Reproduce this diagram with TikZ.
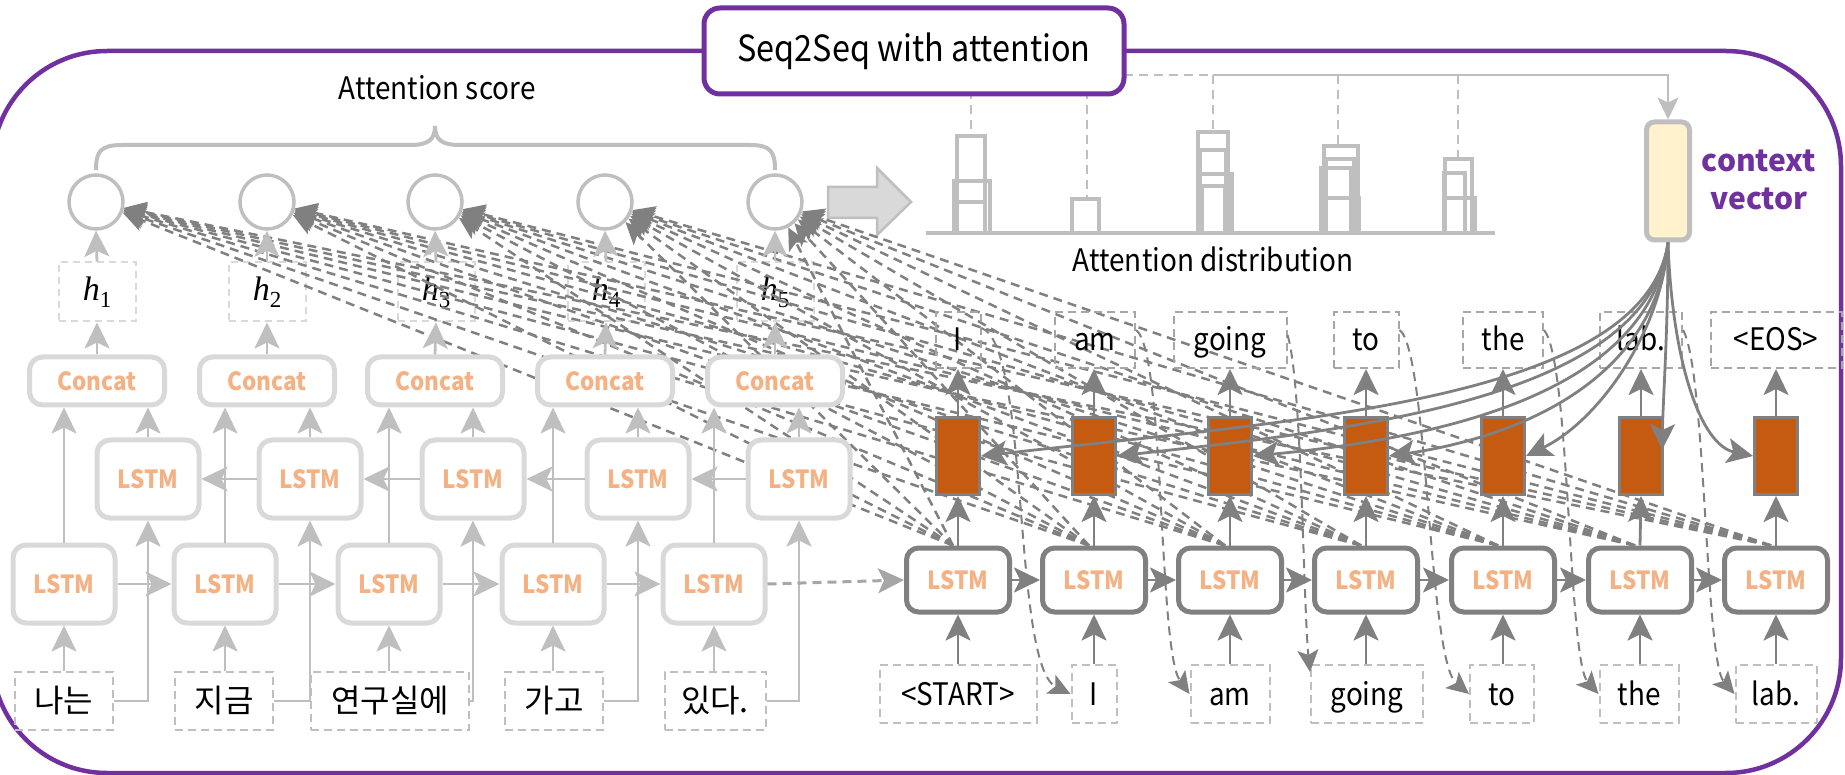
\documentclass[tikz,border=0pt]{standalone}
\usepackage{fontspec}
\setmainfont{Noto Sans CJK KR}[FakeStretch=0.9]
\newfontfamily\krf{Noto Sans CJK KR}
\newfontfamily\hf{Liberation Serif}
\usetikzlibrary{arrows.meta,calc}
\definecolor{frameP}{HTML}{7030A0}
\definecolor{lgray}{HTML}{BFBFBF}
\definecolor{lbox}{HTML}{D9D9D9}
\definecolor{dgray}{HTML}{808080}
\definecolor{wgray}{HTML}{A6A6A6}
\definecolor{lstmtxt}{HTML}{F4B183}
\definecolor{hidfill}{HTML}{C55A11}
\definecolor{ctxfill}{HTML}{FFF2CC}
\newcommand{\fs}[1]{\fontsize{#1}{#1}\selectfont}
\newcommand{\hlab}[1]{{\hf\fs{34}\itshape h\raisebox{-7pt}{\fs{23}\upshape #1}}}
\tikzset{
  bigtip/.tip={Stealth[length=26pt,width=25pt,inset=6pt]},
  smalltip/.tip={Stealth[length=22pt,width=21pt,inset=5pt]},
  encbox/.style={draw=lbox, line width=5pt, rounded corners=13pt, fill=white,
    minimum width=102pt, minimum height=78pt, inner sep=0pt,
    font=\bfseries\fs{25}, text=lstmtxt},
  catbox/.style={encbox, minimum width=135pt, minimum height=48pt, font=\bfseries\fs{25}},
  hbox/.style={draw=lbox, dashed, dash pattern=on 7pt off 5pt, line width=2pt,
    minimum width=77pt, minimum height=59pt, inner sep=0pt},
  score/.style={circle, draw=lgray, line width=3.5pt, minimum size=54pt, inner sep=0pt},
  encarrow/.style={draw=lgray, line width=2.8pt, -bigtip},
  decbox/.style={draw=dgray, line width=5pt, rounded corners=12pt, fill=white,
    minimum width=103pt, minimum height=64pt, inner sep=0pt,
    font=\bfseries\fs{25}, text=lstmtxt},
  hid/.style={draw=dgray, fill=hidfill, line width=3pt, minimum width=43pt,
    minimum height=77pt, inner sep=0pt},
  wordbox/.style={dashed, dash pattern=on 8pt off 5pt, line width=2pt, inner sep=0pt,
    font=\fs{31}, text height=27pt, text depth=5pt},
  outword/.style={wordbox, draw=wgray, minimum height=56pt},
  inword/.style={wordbox, draw=lgray, minimum height=58pt},
  decarrow/.style={draw=dgray, line width=2.8pt, -bigtip},
  attn/.style={draw=dgray, line width=2.5pt, dash pattern=on 9pt off 6pt, -smalltip},
  feed/.style={draw=dgray, line width=2pt, dash pattern=on 9pt off 6pt, -smalltip},
  bar/.style={draw=lgray, line width=4pt},
  toplink/.style={draw=lgray, line width=2.5pt},
}
\begin{document}
\begin{tikzpicture}[x=1pt, y=-1pt]
\useasboundingbox (0,0) rectangle (1845,775);

% outer frame
\draw[frameP, line width=4.5pt, rounded corners=115pt] (-8,51) rectangle (1841,773);

% links from the distribution columns to the context vector
\foreach \x/\t in {971/136, 1087/199, 1213/132, 1338/146, 1458/159}
  \draw[toplink, dashed, dash pattern=on 9pt off 6pt] (\x,75) -- (\x,\t);
\draw[toplink, dashed, dash pattern=on 9pt off 6pt] (1124,75) -- (1213,75);
\node[draw=lgray, line width=5pt, rounded corners=8pt, fill=ctxfill,
      minimum width=43pt, minimum height=118pt, inner sep=0pt] (ctx) at (1668,181) {};
\draw[toplink, -smalltip] (1213,75) -| (ctx.north);

% title
\node[draw=frameP, line width=5pt, rounded corners=16pt, fill=white,
      minimum width=420pt, minimum height=86pt, inner sep=0pt, font=\fs{36}]
      (title) at (914,51) {Seq2Seq with attention};

\node[font=\krf\bfseries\fontsize{30}{38}\selectfont, text=frameP, align=center]
  (ctxlbl) at (1759,180) {context\\vector};

% attention distribution columns
\draw[bar] (926,233) -- (1495,233);
\foreach \a/\b/\c/\d in {957/136/985/233, 954/181/990/233, 957/202/985/233,
  1072/199/1099/233,
  1198/132/1228/233, 1200/150/1226/233, 1198/174/1232/233, 1202/186/1225/233,
  1324/146/1358/233, 1326/159/1354/233, 1321/168/1351/233, 1321/198/1359/233,
  1445/159/1472/233, 1444/173/1465/233, 1445/198/1475/233}
  \draw[bar] (\a,\d) |- (\c,\b) -- (\c,\d);
\node[font=\fs{31}] (distlbl) at (1213,259) {Attention distribution};

% block arrow from scores to distribution
\draw[fill=lbox, draw=lgray, line width=2.5pt, line join=miter]
  (828,187) -- (877,187) -- (877,168) -- (911,202) -- (877,235) -- (877,218) -- (828,218) -- cycle;

% attention scores with brace
\foreach \i/\x in {1/96,2/267,3/435,4/605,5/775}
  \node[score] (s\i) at (\x,202) {};
\draw[lgray, line width=4pt] (96,170) .. controls (96,152) and (100,145) .. (122,145)
  -- (410,145) .. controls (428,145) and (435,140) .. (435,126)
  .. controls (435,140) and (442,145) .. (460,145) -- (750,145)
  .. controls (771,145) and (775,152) .. (775,170);
\node[font=\fs{31}] (scorelbl) at (437,88) {Attention score};

\foreach \i/\x in {1/97,2/267,3/436,4/606,5/775}
  \node[hbox] (h\i) at (\x,292) {\hlab{\i}};

% decoder LSTM cells
\foreach \i/\x in {1/958,2/1094,3/1230,4/1366,5/1503,6/1640,7/1776}
  \node[decbox] (d\i) at (\x,580) {LSTM};

% scoring links from each decoder step to every encoder score
\foreach \i in {1,...,7}
  \foreach \j in {1,...,5}
    \draw[attn] ([xshift=-5pt]d\i.north) -- (s\j);

% encoder
\foreach \i/\x in {1/97,2/267,3/435,4/605,5/775}
  \node[catbox] (cat\i) at (\x,381) {Concat};
\foreach \i/\x in {1/148,2/310,3/473,4/638,5/799}
  \node[encbox] (b\i) at (\x,479) {LSTM};
\foreach \i/\x in {1/64,2/225,3/389,4/553,5/714}
  \node[encbox] (f\i) at (\x,584) {LSTM};
\foreach \i/\x/\w/\t in {1/64/98/나는, 2/224/98/지금, 3/390/158/연구실에, 4/554/98/가고, 5/715/101/있다.}
  \node[inword, minimum width=\w pt, font=\krf\fs{32}] (w\i) at (\x,701) {\t};

\foreach \i in {1,...,5} {
  \draw[encarrow] (f\i.north) -- (f\i.north |- cat\i.south);
  \draw[encarrow] (b\i.north) -- (b\i.north |- cat\i.south);
  \draw[encarrow] (cat\i.north) -- (h\i.south);
  \draw[encarrow] (h\i.north) -- (s\i.south);
  \draw[encarrow] (w\i.north -| f\i) -- (f\i.south);
  \draw[encarrow] (w\i.east) -| (b\i.south);
}
\foreach \i/\j in {1/2,2/3,3/4,4/5} {
  \draw[encarrow] (f\i.east) -- (f\j.west);
  \draw[encarrow] (b\j.west) -- (b\i.east);
}
\draw[draw=wgray, line width=3pt, dash pattern=on 9pt off 6pt, -bigtip] (f5.east) -- (d1.west);

% decoder hidden states, inputs and outputs
\foreach \i/\x in {1/958,2/1094,3/1230,4/1366,5/1503,6/1641,7/1776}
  \node[hid] (q\i) at (\x,456) {};
\foreach \i/\x/\w/\t in {1/958/157/<START>, 2/1094/45/I, 3/1230/79/am, 4/1367/112/going,
  5/1502/64/to, 6/1639/79/the, 7/1776/81/lab.}
  \node[inword, minimum width=\w pt] (in\i) at (\x,694) {\t};
\foreach \i/\x/\w/\t in {1/958/45/I, 2/1095/80/am, 3/1230/113/going, 4/1366/65/to,
  5/1503/80/the, 6/1641/82/lab., 7/1776/131/<EOS>}
  \node[outword, minimum width=\w pt] (out\i) at (\x,340) {\t};

\foreach \i in {1,...,7} {
  \draw[decarrow] (in\i.north -| d\i) -- (d\i.south);
  \draw[decarrow] (d\i.north) -- (q\i.south);
  \draw[decarrow] (q\i.north) -- (q\i.north |- out\i.south);
}
\foreach \i/\j in {1/2,2/3,3/4,4/5,5/6,6/7}
  \draw[decarrow] (d\i.east) -- (d\j.west);

% each output word is fed back as the next input
\draw[feed] ($(out1.east)+(0,-12)$) .. controls (1030,345) and (1012,665) .. (in2.west);
\draw[feed] ($(out2.east)+(0,-10)$) .. controls (1165,350) and (1158,650) .. (in3.west);
\draw[feed] ($(out3.east)+(0,-5)$) .. controls (1302,380) and (1303,600) .. ($(in4.north west)+(0,8)$);
\draw[feed] ($(out4.east)+(0,-10)$) .. controls (1428,350) and (1428,660) .. (in5.west);
\draw[feed] ($(out5.east)+(0,-10)$) .. controls (1570,360) and (1568,660) .. (in6.west);
\draw[feed] ($(out6.east)+(0,-10)$) .. controls (1706,370) and (1705,660) .. (in7.west);

% context vector into every decoder step
\draw[decarrow] (ctx.south) .. controls (1645,400) and (1300,420) .. (q1.east);
\draw[decarrow] (ctx.south) .. controls (1648,400) and (1350,430) .. (q2.east);
\draw[decarrow] (ctx.south) .. controls (1650,400) and (1420,440) .. (q3.east);
\draw[decarrow] (ctx.south) .. controls (1655,390) and (1500,440) .. (q4.east);
\draw[decarrow] (ctx.south) .. controls (1662,330) and (1600,420) .. (q5.east);
\draw[decarrow] (ctx.south) .. controls (1668,330) and (1663,400) .. ($(q6.north east)+(-2,34)$);
\draw[decarrow] (ctx.south) .. controls (1672,360) and (1700,445) .. (q7.west);
\end{tikzpicture}
\end{document}
